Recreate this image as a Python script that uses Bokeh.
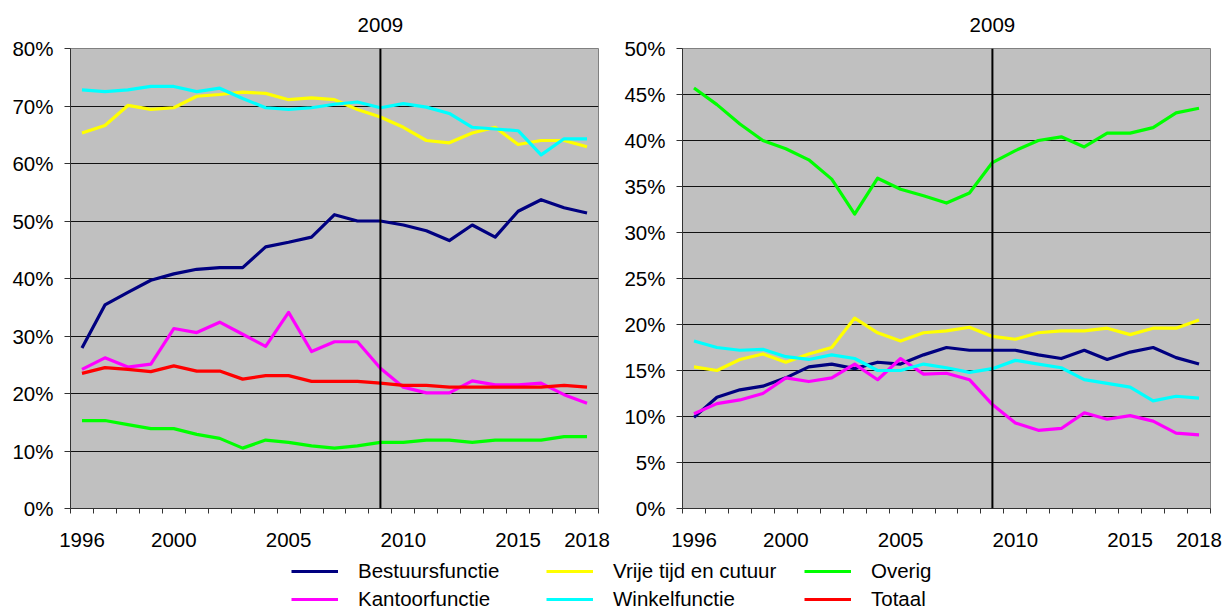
from bokeh.plotting import figure
from bokeh.models import (FixedTicker, PrintfTickFormatter, Span, LinearAxis, Legend,
                          LegendItem, Range1d)
from bokeh.layouts import column, row
from bokeh.embed import file_html
from bokeh.resources import INLINE

# ---------------- data ----------------
years = list(range(1996, 2019))
x_tick_labels = [1996, 2000, 2005, 2010, 2015, 2018]
marker_year = 2009

series_names = ["Bestuursfunctie", "Vrije tijd en cutuur", "Overig",
                "Kantoorfunctie", "Winkelfunctie", "Totaal"]
series_colors = ["#000080", "#FFFF00", "#00FF00", "#FF00FF", "#00FFFF", "#FF0000"]

# left chart (percent)
left_bestuurs = [27.9, 35.4, 37.6, 39.7, 40.8, 41.6, 41.9, 41.9, 45.5, 46.3, 47.2, 51.1,
                 50.0, 50.0, 49.3, 48.3, 46.6, 49.3, 47.2, 51.7, 53.7, 52.3, 51.4]
left_vrije = [65.3, 66.6, 70.1, 69.4, 69.7, 71.7, 72.0, 72.4, 72.2, 71.1, 71.4, 71.1,
              69.4, 68.1, 66.3, 64.0, 63.6, 65.3, 66.3, 63.3, 64.0, 64.0, 62.9]
left_overig = [15.3, 15.3, 14.6, 13.9, 13.9, 12.9, 12.2, 10.5, 11.9, 11.5, 10.9, 10.5,
               10.9, 11.5, 11.5, 11.9, 11.9, 11.5, 11.9, 11.9, 11.9, 12.5, 12.5]
left_kantoor = [24.2, 26.2, 24.6, 25.1, 31.3, 30.6, 32.4, 30.3, 28.2, 34.1, 27.3, 29.0,
                29.0, 24.4, 21.1, 20.1, 20.1, 22.2, 21.5, 21.5, 21.8, 19.8, 18.3]
left_winkel = [72.8, 72.5, 72.8, 73.4, 73.4, 72.5, 73.1, 71.3, 69.7, 69.4, 69.7, 70.3,
               70.7, 69.7, 70.4, 69.8, 68.7, 66.3, 66.0, 65.7, 61.5, 64.3, 64.3]
left_totaal = [23.5, 24.5, 24.2, 23.8, 24.8, 23.9, 23.9, 22.5, 23.1, 23.1, 22.1, 22.1,
               22.1, 21.8, 21.4, 21.4, 21.1, 21.1, 21.1, 21.1, 21.1, 21.4, 21.1]

# right chart (percent)
right_bestuurs = [9.9, 12.1, 12.9, 13.3, 14.2, 15.4, 15.7, 15.2, 15.9, 15.7, 16.7, 17.5,
                  17.2, 17.2, 17.2, 16.7, 16.3, 17.2, 16.2, 17.0, 17.5, 16.4, 15.7]
right_vrije = [15.4, 15.0, 16.2, 16.8, 15.9, 16.8, 17.5, 20.7, 19.1, 18.2, 19.1, 19.3,
               19.7, 18.7, 18.4, 19.1, 19.3, 19.3, 19.6, 18.9, 19.6, 19.6, 20.5]
right_overig = [45.7, 43.9, 41.8, 40.0, 39.1, 37.9, 35.8, 32.0, 35.9, 34.7, 34.0, 33.2,
                34.3, 37.6, 38.9, 40.0, 40.4, 39.3, 40.8, 40.8, 41.4, 43.0, 43.5]
right_kantoor = [10.3, 11.4, 11.8, 12.5, 14.2, 13.8, 14.2, 15.7, 14.0, 16.3, 14.6, 14.7,
                 14.0, 11.3, 9.3, 8.5, 8.7, 10.4, 9.7, 10.1, 9.5, 8.2, 8.0]
right_winkel = [18.2, 17.5, 17.2, 17.3, 16.5, 16.2, 16.7, 16.3, 15.0, 15.0, 15.7, 15.3,
                14.8, 15.2, 16.1, 15.7, 15.3, 14.0, 13.6, 13.2, 11.7, 12.2, 12.0]

left_y_ticks = [0, 10, 20, 30, 40, 50, 60, 70, 80]
right_y_ticks = [0, 5, 10, 15, 20, 25, 30, 35, 40, 45, 50]

FONT = "Liberation Sans"
FS = "20.5px"
AXC = "#333333"


def make_panel(series, y_ticks, width, mbl, mbr):
    p = figure(width=width, height=556, title=None,
               x_range=Range1d(years[0] - 0.5, years[-1] + 0.5),
               y_range=Range1d(y_ticks[0], y_ticks[-1]),
               output_backend="svg", toolbar_location=None, tools="",
               min_border_left=mbl, min_border_right=mbr,
               min_border_top=48, min_border_bottom=48)
    p.background_fill_color = "#C0C0C0"
    p.border_fill_color = "white"
    p.outline_line_color = "#808080"
    p.outline_line_width = 1
    p.xgrid.visible = False
    p.ygrid.grid_line_color = "#111111"
    p.ygrid.grid_line_width = 1
    p.ygrid.ticker = FixedTicker(ticks=y_ticks)

    xa = p.xaxis[0]
    xa.ticker = FixedTicker(ticks=x_tick_labels,
                            minor_ticks=[y - 0.5 for y in years] + [years[-1] + 0.5])
    xa.formatter = PrintfTickFormatter(format="%d")
    xa.major_tick_line_color = None
    xa.major_tick_out = 0
    xa.major_tick_in = 0
    xa.minor_tick_line_color = AXC
    xa.minor_tick_out = 5
    xa.minor_tick_in = 0
    xa.axis_line_color = AXC
    xa.major_label_standoff = 19
    xa.major_label_text_font = FONT
    xa.major_label_text_font_size = FS
    xa.major_label_text_color = "black"

    # "2009" heading above the marker line
    top = LinearAxis(ticker=FixedTicker(ticks=[marker_year]),
                     formatter=PrintfTickFormatter(format="%d"),
                     axis_line_color=None, major_tick_line_color=None,
                     minor_tick_line_color=None, major_tick_out=0, major_tick_in=0,
                     major_label_standoff=17,
                     major_label_text_font=FONT, major_label_text_font_size=FS,
                     major_label_text_color="black")
    p.add_layout(top, "above")

    ya = p.yaxis[0]
    ya.ticker = FixedTicker(ticks=y_ticks)
    ya.formatter = PrintfTickFormatter(format="%d%%")
    ya.major_tick_out = 6
    ya.major_tick_in = 0
    ya.major_tick_line_color = AXC
    ya.minor_tick_line_color = None
    ya.axis_line_color = AXC
    ya.major_label_standoff = 11
    ya.major_label_text_font = FONT
    ya.major_label_text_font_size = FS
    ya.major_label_text_color = "black"

    for vals, col in series:
        p.line(years, vals, line_color=col, line_width=3.2, line_join="round")

    p.add_layout(Span(location=marker_year, dimension="height",
                      line_color="black", line_width=2))
    return p


left_series = [(left_bestuurs, series_colors[0]), (left_vrije, series_colors[1]),
               (left_overig, series_colors[2]), (left_kantoor, series_colors[3]),
               (left_winkel, series_colors[4]), (left_totaal, series_colors[5])]
right_series = [(right_bestuurs, series_colors[0]), (right_vrije, series_colors[1]),
                (right_overig, series_colors[2]), (right_kantoor, series_colors[3]),
                (right_winkel, series_colors[4])]

p1 = make_panel(left_series, left_y_ticks, 620, 70, 22)
p2 = make_panel(right_series, right_y_ticks, 609, 62, 19)

# ---------------- legend strip ----------------
pl = figure(width=1229, height=54, x_range=Range1d(0, 1), y_range=Range1d(0, 1),
            output_backend="svg", toolbar_location=None, tools="",
            x_axis_type=None, y_axis_type=None, min_border=0)
pl.outline_line_color = None
pl.grid.visible = False
leg_renderers = {}
for name, (vals, col) in zip(series_names, left_series):
    # drawn outside the visible range: used only as legend samples
    leg_renderers[name] = pl.line(years, vals, line_color=col, line_width=3.2)

columns = [["Bestuursfunctie", "Kantoorfunctie"],
           ["Vrije tijd en cutuur", "Winkelfunctie"],
           ["Overig", "Totaal"]]
col_x = [291, 546, 804]
for names, cx in zip(columns, col_x):
    leg = Legend(items=[LegendItem(label=n, renderers=[leg_renderers[n]]) for n in names],
                 location=(cx, -3), orientation="vertical",
                 glyph_width=47, glyph_height=20, label_height=28, label_width=10,
                 label_standoff=20, padding=0, margin=0, spacing=0,
                 border_line_color=None, background_fill_alpha=0,
                 label_text_font=FONT, label_text_font_size=FS,
                 label_text_color="black")
    pl.add_layout(leg)

layout = column(row(p1, p2), pl)

with open("out.html", "w") as f:
    f.write(file_html(layout, INLINE))
